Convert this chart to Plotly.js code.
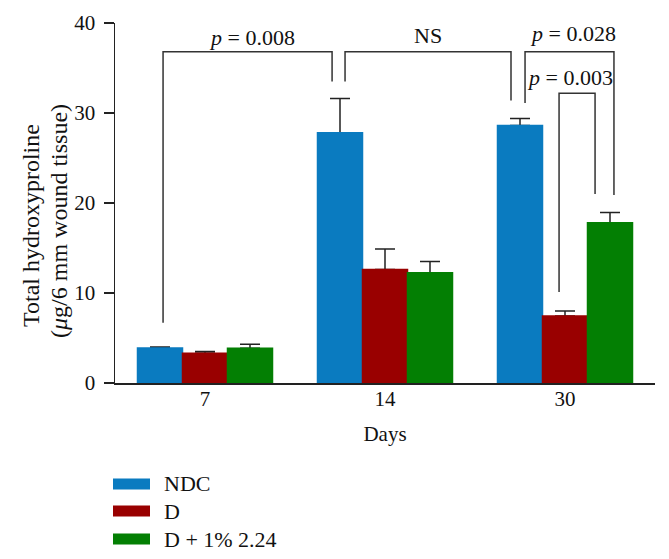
<!DOCTYPE html>
<html>
<head>
<meta charset="utf-8">
<script src="https://cdn.plot.ly/plotly-3.0.1.min.js"></script>
<style>html,body{margin:0;padding:0;background:#fff;}</style>
</head>
<body>
<div id="chart" style="width:669px;height:559px;"></div>
<script>
// ---- data ----
var days = ['7', '14', '30'];
var seriesNames = ['NDC', 'D', 'D + 1% 2.24'];
var ndcValues = [3.9, 27.8, 28.6];
var ndcErrors = [0.1, 3.8, 0.8];
var dValues = [3.3, 12.6, 7.45];
var dErrors = [0.2, 2.3, 0.55];
var dTreatValues = [3.85, 12.25, 17.8];
var dTreatErrors = [0.45, 1.25, 1.15];
var yTicks = [0, 10, 20, 30, 40];
var xTitle = 'Days';
var yTitleLines = ['Total hydroxyproline', '(<i>μ</i>g/6 mm wound tissue)'];

// significance brackets: x positions in category units, y in data units
var brackets = [
  {x0: -0.233, x1: 0.706, top: 36.8, left: 6.7, right: 33.5, label: '<i>p</i> = 0.008', lx: 0.261, ly: 38.4},
  {x0: 0.778, x1: 1.70, top: 36.8, left: 33.5, right: 31.4, label: 'NS', lx: 1.239, ly: 38.6},
  {x0: 1.778, x1: 2.272, top: 36.8, left: 31.1, right: 20.9, label: '<i>p</i> = 0.028', lx: 2.044, ly: 38.8},
  {x0: 1.967, x1: 2.167, top: 32.2, left: 10.1, right: 21.0, label: '<i>p</i> = 0.003', lx: 2.028, ly: 34.0}
];

var colors = ['#0a7bc0', '#990000', '#037f03'];
var FONT = 'Liberation Serif, Times New Roman, serif';
var INK = '#111';

var seriesValues = [ndcValues, dValues, dTreatValues];
var seriesErrors = [ndcErrors, dErrors, dTreatErrors];

var traces = [];
// bars with upward error bars
seriesNames.forEach(function(name, i) {
  traces.push({
    type: 'bar', name: name, x: days, y: seriesValues[i], offsetgroup: 'g' + i,
    marker: {color: colors[i], line: {width: 0}},
    error_y: {type: 'data', symmetric: false, array: seriesErrors[i],
              arrayminus: seriesErrors[i].map(function(){return 0;}),
              color: '#222', thickness: 1.5, width: 10},
    showlegend: false, hoverinfo: 'skip'
  });
});
// same bars again on top, hiding the lower cross-bar of each error bar
seriesNames.forEach(function(name, i) {
  traces.push({
    type: 'bar', name: name, x: days, y: seriesValues[i], offsetgroup: 'g' + i,
    marker: {color: colors[i], line: {width: 1.5, color: colors[i]}},
    showlegend: false, hoverinfo: 'skip'
  });
});

var shapes = [];
var annotations = [];
brackets.forEach(function(b) {
  shapes.push({
    type: 'path', xref: 'x', yref: 'y',
    path: 'M ' + b.x0 + ' ' + b.left + ' L ' + b.x0 + ' ' + b.top + ' L ' + b.x1 + ' ' + b.top + ' L ' + b.x1 + ' ' + b.right,
    line: {color: '#333', width: 1.5}
  });
  annotations.push({
    xref: 'x', yref: 'y', x: b.lx, y: b.ly, text: b.label, showarrow: false,
    xanchor: 'center', yanchor: 'middle', font: {family: FONT, size: 22, color: INK}
  });
});

var plotL = 115, plotW = 540, plotB = 383, plotH = 360;
function px2paperX(px) { return (px - plotL) / plotW; }
function px2paperY(py) { return (plotB - py) / plotH; }

// y-axis title, two lines
var yTitlePos = [{x: 31, y: 226}, {x: 59, y: 221}];
yTitleLines.forEach(function(t, i) {
  annotations.push({
    xref: 'paper', yref: 'paper', x: px2paperX(yTitlePos[i].x), y: px2paperY(yTitlePos[i].y),
    text: t, textangle: -90, showarrow: false, xanchor: 'center', yanchor: 'middle',
    font: {family: FONT, size: 24, color: INK}
  });
});

// manual legend (wide swatches like the reference)
var legendRows = [484, 511, 539];
seriesNames.forEach(function(name, i) {
  var cy = legendRows[i];
  shapes.push({
    type: 'rect', xref: 'paper', yref: 'paper',
    x0: px2paperX(113), x1: px2paperX(150), y0: px2paperY(cy - 5.5), y1: px2paperY(cy + 5.5),
    fillcolor: colors[i], line: {width: 0}
  });
  annotations.push({
    xref: 'paper', yref: 'paper', x: px2paperX(162), y: px2paperY(cy), text: name,
    showarrow: false, xanchor: 'left', yanchor: 'middle',
    font: {family: FONT, size: 22, color: INK}
  });
});

var layout = {
  width: 669, height: 559,
  margin: {l: 115, r: 14, t: 23, b: 176},
  paper_bgcolor: '#fff', plot_bgcolor: '#fff',
  font: {family: FONT, size: 21, color: INK},
  barmode: 'group', bargap: 0.25, bargroupgap: 0,
  showlegend: false,
  xaxis: {
    type: 'category', range: [-0.5, 2.5],
    showline: true, linecolor: '#222', linewidth: 1.5,
    ticks: '', showgrid: false, zeroline: false, ticklabelstandoff: -4,
    tickfont: {family: FONT, size: 21, color: INK},
    title: {text: xTitle, font: {family: FONT, size: 21, color: INK}, standoff: 16}
  },
  yaxis: {
    range: [0, 40], tickvals: yTicks, ticktext: yTicks.map(String),
    showline: true, linecolor: '#222', linewidth: 1.5,
    ticks: 'outside', ticklen: 10, tickwidth: 1.5, tickcolor: '#222',
    showgrid: false, zeroline: false, ticklabelstandoff: 4,
    tickfont: {family: FONT, size: 21, color: INK}
  },
  shapes: shapes,
  annotations: annotations
};

Plotly.newPlot('chart', traces, layout, {displayModeBar: false, staticPlot: true});
</script>
</body>
</html>
